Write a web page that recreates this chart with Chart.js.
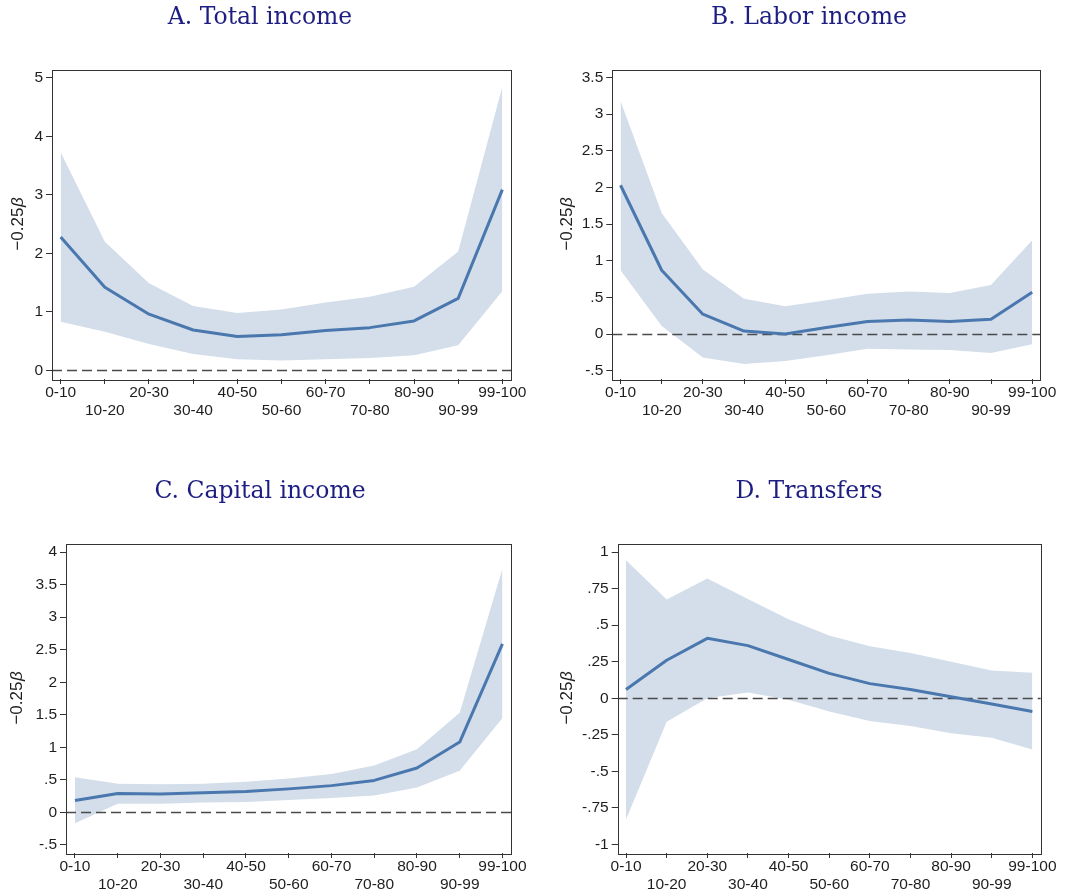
<!DOCTYPE html>
<html><head><meta charset="utf-8">
<script src="https://cdn.jsdelivr.net/npm/chart.js@4/dist/chart.umd.min.js"></script>
<style>
html,body{margin:0;padding:0;background:#fff;}
body{width:1083px;height:894px;position:relative;overflow:hidden;}
canvas{position:absolute;display:block;}
</style></head><body>
<canvas id="cA" width="540" height="420" style="left:0px;top:0px;width:540px;height:420px"></canvas>
<canvas id="cB" width="543" height="420" style="left:540px;top:0px;width:543px;height:420px"></canvas>
<canvas id="cC" width="540" height="420" style="left:0px;top:474px;width:540px;height:420px"></canvas>
<canvas id="cD" width="543" height="420" style="left:540px;top:474px;width:543px;height:420px"></canvas>
<script>
// ---- data ----
const categories = ['0-10','10-20','20-30','30-40','40-50','50-60','60-70','70-80','80-90','90-99','99-100'];

const totalEst = [2.28,1.42,0.96,0.69,0.58,0.61,0.68,0.73,0.845,1.23,3.09];
const totalHi  = [3.73,2.20,1.49,1.10,0.98,1.04,1.16,1.26,1.43,2.03,4.85];
const totalLo  = [0.83,0.66,0.45,0.28,0.19,0.17,0.19,0.21,0.26,0.43,1.35];

const laborEst = [2.03,0.87,0.27,0.04,0.00,0.09,0.17,0.19,0.17,0.20,0.57];
const laborHi  = [3.18,1.65,0.88,0.48,0.38,0.46,0.55,0.58,0.56,0.67,1.28];
const laborLo  = [0.87,0.11,-0.32,-0.41,-0.37,-0.29,-0.20,-0.21,-0.22,-0.26,-0.14];

const capEst = [0.18,0.29,0.28,0.30,0.32,0.36,0.41,0.49,0.68,1.08,2.59];
const capHi  = [0.54,0.44,0.43,0.44,0.47,0.52,0.59,0.72,0.97,1.53,3.75];
const capLo  = [-0.17,0.13,0.13,0.15,0.16,0.19,0.22,0.26,0.38,0.64,1.45];

const trEst = [0.06,0.26,0.41,0.36,0.265,0.17,0.10,0.06,0.01,-0.04,-0.09];
const trHi  = [0.945,0.675,0.82,0.68,0.54,0.43,0.356,0.31,0.25,0.19,0.175];
const trLo  = [-0.83,-0.16,0.00,0.04,-0.01,-0.09,-0.155,-0.19,-0.24,-0.27,-0.35];

const totalTicks = [0,1,2,3,4,5];
const totalTickLabels = ['0','1','2','3','4','5'];
const laborTicks = [-0.5,0,0.5,1,1.5,2,2.5,3,3.5];
const laborTickLabels = ['-.5','0','.5','1','1.5','2','2.5','3','3.5'];
const capTicks = [-0.5,0,0.5,1,1.5,2,2.5,3,3.5,4];
const capTickLabels = ['-.5','0','.5','1','1.5','2','2.5','3','3.5','4'];
const trTicks = [-1,-0.75,-0.5,-0.25,0,0.25,0.5,0.75,1];
const trTickLabels = ['-1','-.75','-.5','-.25','0','.25','.5','.75','1'];

const titles = ['A. Total income','B. Labor income','C. Capital income','D. Transfers'];
const yTitleNum = '\u22120.25';
const yTitleSym = '\u03B2';

// ---- styles ----
const LINE = '#4a78ae';
const BAND = '#d3deea';
const INK = '#1e1e1e';
const TITLE_COLOR = '#1e1e82';
const SANS = "'Liberation Sans', Arial, Helvetica, sans-serif";
const SERIF = "'DejaVu Serif', 'Liberation Serif', serif";

const framePlugin = {
  id: 'frame',
  afterDatasetDraw(chart, args) {
    if (args.index !== 1) return;
    const {ctx, chartArea: a, scales: {y}} = chart;
    const py = Math.round(y.getPixelForValue(0)) + 0.5;
    ctx.save();
    ctx.strokeStyle = '#4a4a4a';
    ctx.lineWidth = 1.3;
    ctx.setLineDash([10, 5]);
    ctx.beginPath();
    ctx.moveTo(a.left, py);
    ctx.lineTo(a.right, py);
    ctx.stroke();
    ctx.restore();
  },
  afterDraw(chart, args, opts) {
    const {ctx, chartArea: a} = chart;
    ctx.save();
    ctx.strokeStyle = '#333';
    ctx.lineWidth = 1;
    ctx.strokeRect(Math.round(a.left) + 0.5, Math.round(a.top) + 0.5,
                   Math.round(a.right - a.left), Math.round(a.bottom - a.top));
    // panel title
    ctx.fillStyle = TITLE_COLOR;
    ctx.font = '23.5px ' + SERIF;
    ctx.textAlign = 'center';
    ctx.textBaseline = 'alphabetic';
    ctx.fillText(opts.title, opts.titleX, opts.titleY);
    // y-axis title: "−0.25" upright + italic beta
    ctx.translate(opts.yTitleX, (a.top + a.bottom) / 2);
    ctx.rotate(-Math.PI / 2);
    ctx.fillStyle = INK;
    ctx.textBaseline = 'middle';
    ctx.textAlign = 'left';
    const fNum = '17px ' + SANS, fSym = 'italic 17px ' + SANS;
    ctx.font = fNum; const w1 = ctx.measureText(yTitleNum).width;
    ctx.font = fSym; const w2 = ctx.measureText(yTitleSym).width;
    const x0 = -(w1 + w2) / 2;
    ctx.font = fNum; ctx.fillText(yTitleNum, x0, 0);
    ctx.font = fSym; ctx.fillText(yTitleSym, x0 + w1 + 0.5, 0);
    ctx.restore();
  }
};

function pts(arr) { return arr.map((v, i) => ({x: i, y: v})); }

function makeChart(id, o) {
  new Chart(document.getElementById(id), {
    type: 'line',
    data: {
      datasets: [
        {data: pts(o.est), borderColor: LINE, borderWidth: 3, pointRadius: 0, fill: false, tension: 0, borderJoinStyle: 'round'},
        {data: pts(o.hi), borderWidth: 0, borderColor: 'rgba(0,0,0,0)', backgroundColor: BAND, pointRadius: 0, fill: '+1', tension: 0},
        {data: pts(o.lo), borderWidth: 0, borderColor: 'rgba(0,0,0,0)', pointRadius: 0, fill: false, tension: 0}
      ]
    },
    options: {
      responsive: false,
      animation: false,
      events: [],
      layout: {padding: {left: 0, top: 69.5, right: o.padRight, bottom: 0}},
      plugins: {
        legend: {display: false},
        tooltip: {enabled: false},
        title: {display: false},
        frame: {title: o.title, titleX: o.titleX, titleY: o.titleY, yTitleX: o.yTitleX}
      },
      scales: {
        x: {
          type: 'linear', min: o.xmin, max: o.xmax,
          afterBuildTicks: s => { s.ticks = categories.map((c, i) => ({value: i})); },
          afterFit: s => { s.height = 41; s.paddingLeft = 0; s.paddingRight = 0; },
          grid: {display: true, drawOnChartArea: false, drawTicks: true, tickLength: 5, color: '#333', lineWidth: 1},
          border: {display: false},
          ticks: {
            autoSkip: false, maxRotation: 0, minRotation: 0, padding: 0, color: INK,
            font: {family: SANS, size: 15.5, lineHeight: 1.15},
            callback: (v, i) => (i % 2 ? ['', categories[i]] : categories[i])
          }
        },
        y: {
          type: 'linear', min: o.ymin, max: o.ymax,
          afterBuildTicks: s => { s.ticks = o.ticks.map(v => ({value: v})); },
          afterFit: s => { s.width = o.yWidth; s.paddingTop = 0; s.paddingBottom = 0; },
          grid: {display: true, drawOnChartArea: false, drawTicks: true, tickLength: 6, color: '#333', lineWidth: 1},
          border: {display: false},
          ticks: {
            padding: 3, color: INK, font: {family: SANS, size: 15.5},
            callback: (v, i) => o.tickLabels[i]
          },
          title: {display: false}
        }
      }
    },
    plugins: [framePlugin]
  });
}

makeChart('cA', {title: titles[0], est: totalEst, hi: totalHi, lo: totalLo,
  ticks: totalTicks, tickLabels: totalTickLabels, ymin: -0.148, ymax: 5.143,
  xmin: -0.196, xmax: 10.196, yWidth: 52, padRight: 29, titleX: 260, titleY: 23.5, yTitleX: 18.5});
makeChart('cB', {title: titles[1], est: laborEst, hi: laborHi, lo: laborLo,
  ticks: laborTicks, tickLabels: laborTickLabels, ymin: -0.614, ymax: 3.609,
  xmin: -0.2, xmax: 10.19, yWidth: 72.3, padRight: 43, titleX: 269, titleY: 23.5, yTitleX: 27});
makeChart('cC', {title: titles[2], est: capEst, hi: capHi, lo: capLo,
  ticks: capTicks, tickLabels: capTickLabels, ymin: -0.626, ymax: 4.133,
  xmin: -0.21, xmax: 10.2, yWidth: 66, padRight: 29, titleX: 260, titleY: 24, yTitleX: 17.5});
makeChart('cD', {title: titles[3], est: trEst, hi: trHi, lo: trLo,
  ticks: trTicks, tickLabels: trTickLabels, ymin: -1.059, ymax: 1.059,
  xmin: -0.205, xmax: 10.205, yWidth: 77.7, padRight: 42.3, titleX: 269, titleY: 24, yTitleX: 27.5});
</script>
</body></html>
